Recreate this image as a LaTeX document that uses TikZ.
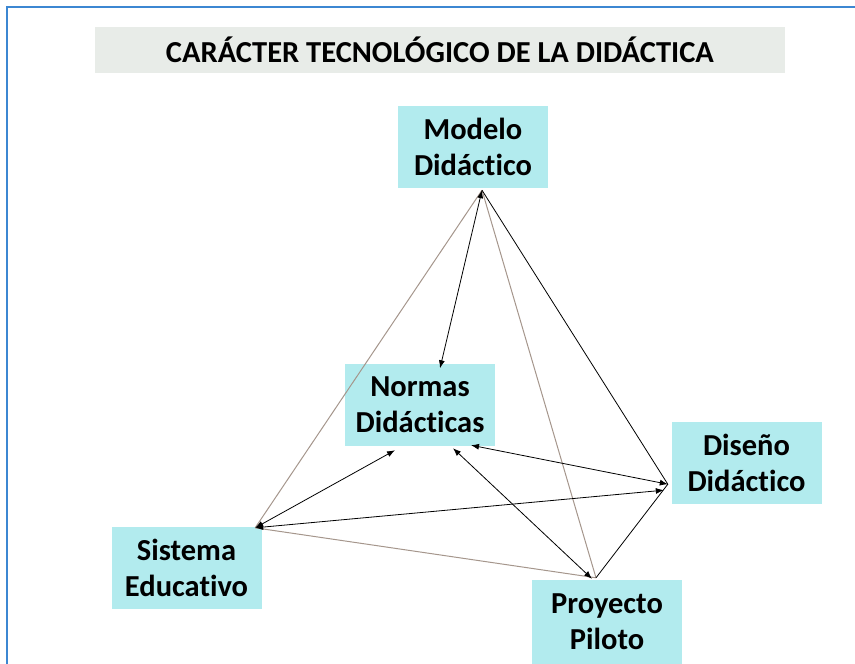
\documentclass[tikz,border=0pt]{standalone}
\usepackage{fontspec}
\setmainfont{Carlito}[Ligatures={NoCommon}]
\usetikzlibrary{arrows.meta}
\definecolor{cian}{RGB}{178,235,238}
\definecolor{gristitulo}{RGB}{232,236,232}
\definecolor{arista}{RGB}{165,150,140}
\definecolor{marco}{RGB}{60,135,210}

\begin{document}
\begin{tikzpicture}[x=1pt,y=-1pt,
	caja/.style={fill=cian, minimum width=150pt, minimum height=82pt, inner sep=0pt, align=center, font=\fontsize{30.5}{36}\selectfont\bfseries},
	gris/.style={draw=arista, line width=1pt},
	flecha/.style={line width=0.8pt, {Latex[length=8pt,width=6pt]}-{Latex[length=8pt,width=6pt]}}]
	%\draw[help lines] (0,0) grid[step=50] (855,664);
	\useasboundingbox (0,0) rectangle (855,664);
	\draw[marco, line width=1.3pt] (7,664) -- (7,7) -- (855,7);
	\node[fill=gristitulo, minimum width=690pt, minimum height=46pt, inner sep=0pt, font=\fontsize{30.5}{36}\selectfont\bfseries] (titulo) at (440,49.5) {CARÁCTER TECNOLÓGICO DE LA DIDÁCTICA};
	\node[caja] (modelo) at (473,147) {Modelo\\Didáctico};
	\node[caja] (normas) at (420,404.5) {Normas\\Didácticas};
	\node[caja] (diseno) at (746.5,462.5) {Diseño\\Didáctico};
	\node[caja] (sistema) at (186.5,567.5) {Sistema\\Educativo};
	\node[caja, minimum height=84pt] (proyecto) at (607,622) {Proyecto\\Piloto};
	% puntos de llegada
	\coordinate (pM) at ([shift={(9,2)}]modelo.south);
	\coordinate (pS) at ([shift={(-6.5,1.5)}]sistema.north east);
	\coordinate (pP) at ([shift={(-11,-2)}]proyecto.north);
	\coordinate (pP2) at ([shift={(-15,-1)}]proyecto.north);
	\coordinate (pD) at ([shift={(-3.5,-19.5)}]diseno.south west);
	\coordinate (pD2) at ([shift={(-7.5,-13.5)}]diseno.south west);
	\coordinate (nN) at ([shift={(20,5)}]normas.north);
	\coordinate (nS) at ([shift={(-25,4.5)}]normas.south);
	\coordinate (nP) at ([shift={(33,2.5)}]normas.south);
	\coordinate (nD) at ([shift={(51,-0.5)}]normas.south);
	\draw[gris] (pM) -- (pS);
	\draw[gris] (pM) -- (pP);
	\draw[gris] (pS) -- (pP);
	\draw[line width=0.8pt] (pM) -- (pD) -- (pP);
	\draw[flecha] (pM) -- (nN);
	\draw[flecha] (pS) -- (nS);
	\draw[flecha] (pS) -- (pD2);
	\draw[flecha] (nD) -- (pD);
	\draw[flecha] (nP) -- (pP2);
\end{tikzpicture}
\end{document}
